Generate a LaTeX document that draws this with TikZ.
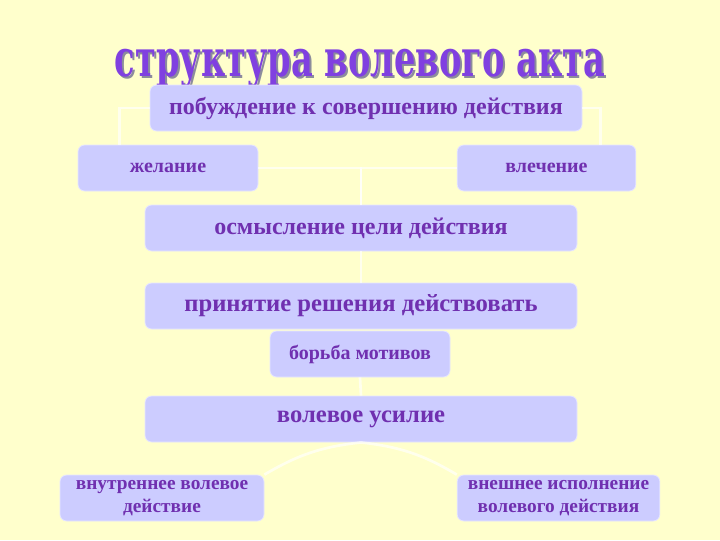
\documentclass[tikz,border=0pt]{standalone}
\usepackage{fontspec}
\setmainfont{Liberation Serif}
\newfontfamily\titlefont{DejaVu Serif}
\usetikzlibrary{calc}
\definecolor{bgyellow}{HTML}{FFFFCC}
\definecolor{boxblue}{HTML}{CCCCFF}
\definecolor{txtpurple}{HTML}{7030B0}
\definecolor{titlepurple}{HTML}{8040E0}
\definecolor{shadowgray}{HTML}{8C8C9C}
\newcommand{\shadowtext}[1]{\rlap{\hspace{1.5pt}\raisebox{-1.5pt}[0pt][0pt]{\textcolor{shadowgray}{#1}}}\textcolor{titlepurple}{#1}}
\tikzset{
  px/.style={x=0.75pt,y=-0.75pt},
  box/.style={fill=boxblue, draw=white!50!boxblue, line width=0.6pt, rounded corners=5pt,
    inner sep=0pt, minimum height=34.5pt, align=center, text=txtpurple, font=\bfseries},
  link/.style={draw=white, line width=2pt, opacity=0.65},
}
\begin{document}
\begin{tikzpicture}[px]
\fill[bgyellow] (0,0) rectangle (720,540);
\useasboundingbox (0,0) rectangle (720,540);
% title
\node[inner sep=0pt, anchor=base, font=\titlefont\bfseries\fontsize{26}{30}\selectfont] (title) at (360,76) {\resizebox{367.5pt}{20.5pt}{\shadowtext{структура волевого акта}}};
% boxes
\node[box, minimum width=324pt, font=\bfseries\fontsize{18}{20}\selectfont] (b1) at (366,108) {побуждение к совершению действия};
\node[box, minimum width=135pt, font=\bfseries\fontsize{15}{17}\selectfont] (zhel) at (168,168) {желание};
\node[box, minimum width=134pt, font=\bfseries\fontsize{15}{17}\selectfont] (vlech) at (546.5,168) {влечение};
\node[box, minimum width=324pt, font=\bfseries\fontsize{18}{20}\selectfont] (osm) at (361,228) {осмысление цели действия};
\node[box, minimum width=324pt, font=\bfseries\fontsize{18.5}{21}\selectfont] (prin) at (361,306) {принятие решения действовать};
\node[box, minimum width=135pt, font=\bfseries\fontsize{15}{17}\selectfont] (bor) at (360,354) {борьба мотивов};
\node[box, minimum width=324pt, font=\bfseries\fontsize{18.5}{21}\selectfont] (vol) at (361,419) {волевое усилие};
\node[box, minimum width=153pt, font=\bfseries\fontsize{14.5}{17}\selectfont] (vnutr) at (162,498) {внутреннее волевое\\действие};
\node[box, minimum width=152pt, font=\bfseries\fontsize{14.5}{17}\selectfont] (vnesh) at (558.5,498) {внешнее исполнение\\волевого действия};
% connectors
\draw[link] (b1.west) -| ($(zhel.north west)!0.233!(zhel.north east)$);
\draw[link] (b1.east) -| ($(vlech.north west)!0.8!(vlech.north east)$);
\draw[link] (zhel.east) -| (osm.north);
\draw[link] (vlech.west) -| (osm.north);
\draw[link] (osm.south) -- (prin.north);
\draw[link] (bor.south) -- (vol.north);
\draw[link] (vol.south) to[bend right=12] (vnutr.north east);
\draw[link] (vol.south) to[bend left=12] (vnesh.north west);
\end{tikzpicture}
\end{document}
